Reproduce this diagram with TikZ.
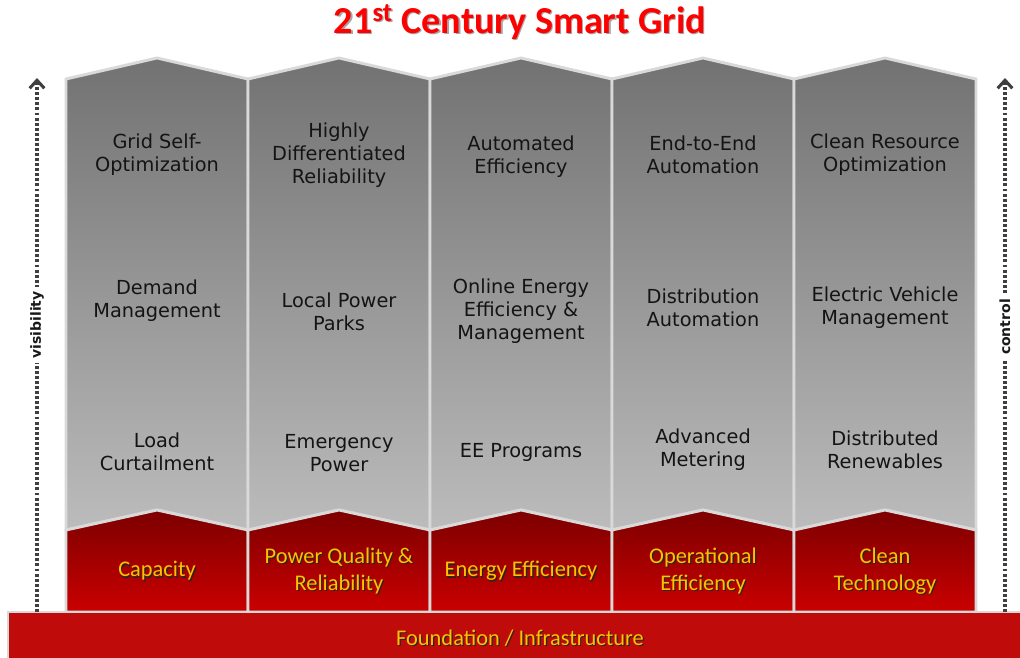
\documentclass[tikz,border=0pt]{standalone}
\usepackage{fontspec}
\setmainfont{DejaVu Sans}
\newfontfamily\calibri{Carlito}
\usetikzlibrary{arrows.meta}

\definecolor{borde}{HTML}{D9D9D9}
\definecolor{grisarriba}{HTML}{727272}
\definecolor{grisabajo}{HTML}{BCBCBC}
\definecolor{rojoarriba}{HTML}{7C0000}
\definecolor{rojoabajo}{HTML}{CA0000}
\definecolor{rojobase}{HTML}{C00B0B}
\definecolor{dorado}{HTML}{FFC000}
\definecolor{flechagris}{HTML}{3F3F3F}
\definecolor{titulorojo}{HTML}{FF0000}

\tikzset{
  pilar/.style={draw=borde, line width=2.2pt, line join=miter,
    top color=grisarriba, bottom color=grisabajo},
  zocalo/.style={draw=borde, line width=2.2pt, line join=miter,
    top color=rojoarriba, bottom color=rojoabajo},
  texto/.style={align=center, text=black!92, inner sep=0pt,
    font=\fontsize{14.5}{17.3}\selectfont},
  rotulo/.style={align=center, inner sep=0pt,
    font=\calibri\fontsize{16.8}{20}\selectfont},
  punteada/.style={draw=flechagris, line width=2.3pt,
    dash pattern=on 2.2pt off 1.6pt,
    -{Straight Barb[length=6pt,width=11pt,line width=2.3pt]}},
  etiqueta/.style={fill=white, inner sep=3pt, text=black!90,
    font=\bfseries\fontsize{10.5}{12}\selectfont}
}

% texto dorado con sombra
\newcommand{\sombreado}[3]{%
  \node[rotulo, text=black!85, xshift=0.9pt, yshift=-0.9pt] at #2 {#3};
  \node[rotulo, text=dorado] (#1) at #2 {#3};
}

\begin{document}
\begin{tikzpicture}[x=0.75pt, y=-0.75pt]
  \useasboundingbox (0,0) rectangle (1020,657);

  % Paso 1: Titulo con sombra
  \node[font=\calibri\bfseries\fontsize{28.6}{34}\selectfont, text=black!35,
    xshift=1pt, yshift=-1pt] at (520,22) {21\textsuperscript{st} Century Smart Grid};
  \node[font=\calibri\bfseries\fontsize{28.6}{34}\selectfont, text=titulorojo]
    (titulo) at (520,22) {21\textsuperscript{st} Century Smart Grid};

  % Paso 2: Pilares grises y zocalos rojos
  \foreach \i in {0,...,4} {
    \pgfmathsetmacro\L{66+182*\i}
    \pgfmathsetmacro\C{\L+91}
    \pgfmathsetmacro\R{\L+182}
    \draw[pilar] (\L,79) -- (\C,58) -- (\R,79) -- (\R,530) -- (\C,510)
      -- (\L,530) -- cycle;
    \draw[zocalo] (\L,530) -- (\C,510) -- (\R,530) -- (\R,612)
      -- (\L,612) -- cycle;
  }

  % Paso 3: Base de fundacion
  \draw[draw=borde, line width=2.2pt, fill=rojobase] (8,612) rectangle (1026,662);
  \sombreado{fundacion}{(520,638)}{Foundation / Infrastructure}

  % Paso 4: Textos de la fila superior
  \node[texto] (gso) at (157,155) {Grid Self-\\Optimization};
  \node[texto] (hdr) at (339,155) {Highly\\Differentiated\\Reliability};
  \node[texto] (ae) at (521,157) {Automated\\Efficiency};
  \node[texto] (eea) at (703,155) {End-to-End\\Automation};
  \node[texto] (cro) at (885,155) {Clean Resource\\Optimization};

  % Paso 5: Textos de la fila media
  \node[texto] (dm) at (157,301) {Demand\\Management};
  \node[texto] (lpp) at (339,312) {Local Power\\Parks};
  \node[texto] (oeem) at (521,311) {Online Energy\\Efficiency \&\\Management};
  \node[texto] (da) at (703,308) {Distribution\\Automation};
  \node[texto] (evm) at (885,308) {Electric Vehicle\\Management};

  % Paso 6: Textos de la fila inferior
  \node[texto] (lc) at (157,452) {Load\\Curtailment};
  \node[texto] (ep) at (339,453) {Emergency\\Power};
  \node[texto] (eep) at (521,452) {EE Programs};
  \node[texto] (am) at (703,450) {Advanced\\Metering};
  \node[texto] (dr) at (885,450) {Distributed\\Renewables};

  % Paso 7: Rotulos dorados de los zocalos
  \sombreado{cap}{(157,571)}{Capacity}
  \sombreado{pqr}{(339,571)}{Power Quality \&\\Reliability}
  \sombreado{enef}{(521,571)}{Energy Efficiency}
  \sombreado{opef}{(703,571)}{Operational\\Efficiency}
  \sombreado{clt}{(885,571)}{Clean\\Technology}

  % Paso 8: Flechas punteadas laterales
  \coordinate (visabajo) at (37,612);
  \coordinate (visarriba) at (37,78);
  \draw[punteada] (visabajo) -- (visarriba);
  \node[etiqueta, rotate=90] (vis) at (37,325) {visibility};

  \coordinate (ctlabajo) at (1005,612);
  \coordinate (ctlarriba) at (1005,78);
  \draw[punteada] (ctlabajo) -- (ctlarriba);
  \node[etiqueta, rotate=90] (ctl) at (1005,327) {control};
\end{tikzpicture}
\end{document}
